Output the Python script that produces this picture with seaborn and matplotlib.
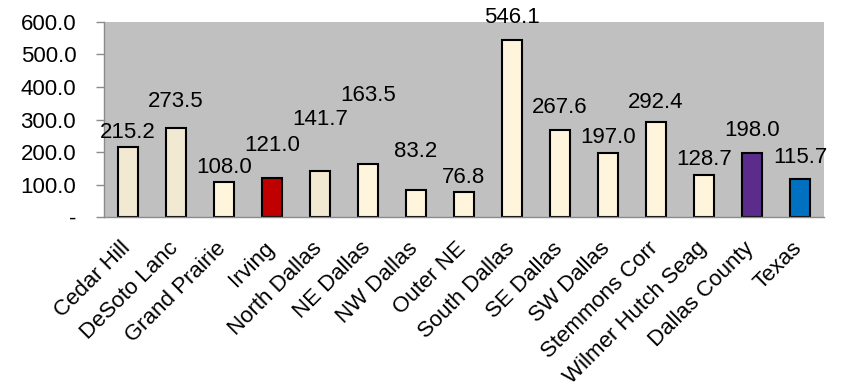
import matplotlib
matplotlib.use("Agg")
import matplotlib.pyplot as plt
import matplotlib.transforms as mtransforms
import seaborn as sns
import pandas as pd

# data
areas = ['Cedar Hill', 'DeSoto Lanc', 'Grand Prairie', 'Irving', 'North Dallas',
         'NE Dallas', 'NW Dallas', 'Outer NE', 'South Dallas', 'SE Dallas',
         'SW Dallas', 'Stemmons Corr', 'Wilmer Hutch Seag', 'Dallas County', 'Texas']
rates = [215.2, 273.5, 108.0, 121.0, 141.7, 163.5, 83.2, 76.8, 546.1, 267.6,
         197.0, 292.4, 128.7, 198.0, 115.7]
y_ticks = [0, 100, 200, 300, 400, 500, 600]
y_tick_labels = ['-', '100.0', '200.0', '300.0', '400.0', '500.0', '600.0']

# bar colours
dark_beige = '#F1E9D2'
light_beige = '#FFF5DC'
bar_colors = [dark_beige, dark_beige, light_beige, '#C00000', dark_beige,
              light_beige, light_beige, light_beige, light_beige, light_beige,
              light_beige, light_beige, light_beige, '#5B2C8C', '#0070C0']
# staggered label offsets above bar tops (points), as in the original
label_pad = [6.5, 15, 6.5, 19, 33, 45, 24, 6.5, 12, 12, 7, 10, 7, 12, 12]

df = pd.DataFrame({'area': areas, 'rate': rates})

sns.set_style('white')
plt.rcParams['font.family'] = ['Liberation Sans', 'DejaVu Sans']
plt.rcParams['text.color'] = 'black'
plt.rcParams['xtick.color'] = 'black'
plt.rcParams['ytick.color'] = 'black'

fig = plt.figure(figsize=(8.42, 3.92), dpi=100)
ax = fig.add_axes([0.1235, 0.4464, 0.8551, 0.4975])

sns.barplot(data=df, x='area', y='rate', hue='area', palette=bar_colors,
            legend=False, width=0.42, edgecolor='black', linewidth=1.5,
            saturation=1, ax=ax)

ax.set_facecolor('#C0C0C0')
ax.set_xlim(-0.5, len(areas) - 0.5)
ax.set_ylim(0, 600)
ax.set_yticks(y_ticks)
ax.set_yticklabels(y_tick_labels, fontsize=16)
ax.set_xlabel('')
ax.set_ylabel('')

# value labels
for i, (v, pad) in enumerate(zip(rates, label_pad)):
    ax.annotate(f'{v:.1f}', xy=(i, v), xytext=(0, pad), textcoords='offset points',
                ha='center', va='baseline', fontsize=16, color='black',
                annotation_clip=False)

# category labels, ticks between categories
ax.set_xticks(range(len(areas)))
ax.set_xticklabels(areas, rotation=45, ha='right', rotation_mode='anchor', fontsize=16)
ax.tick_params(axis='x', which='major', length=0, pad=15)
shift = mtransforms.ScaledTranslation(-6 / 72, 0, fig.dpi_scale_trans)
for lbl in ax.get_xticklabels():
    lbl.set_transform(lbl.get_transform() + shift)
ax.set_xticks([i - 0.5 for i in range(len(areas) + 1)], minor=True)
ax.tick_params(axis='x', which='minor', length=5, color='#8C8C8C', direction='out', width=1)
ax.tick_params(axis='y', length=6, color='#8C8C8C', direction='out', width=1,
               left=True, pad=14)

for s in ['top', 'right']:
    ax.spines[s].set_visible(False)
for s in ['left', 'bottom']:
    ax.spines[s].set_color('#8C8C8C')
    ax.spines[s].set_linewidth(1)

fig.savefig('out.png', dpi=100)
plt.close(fig)
